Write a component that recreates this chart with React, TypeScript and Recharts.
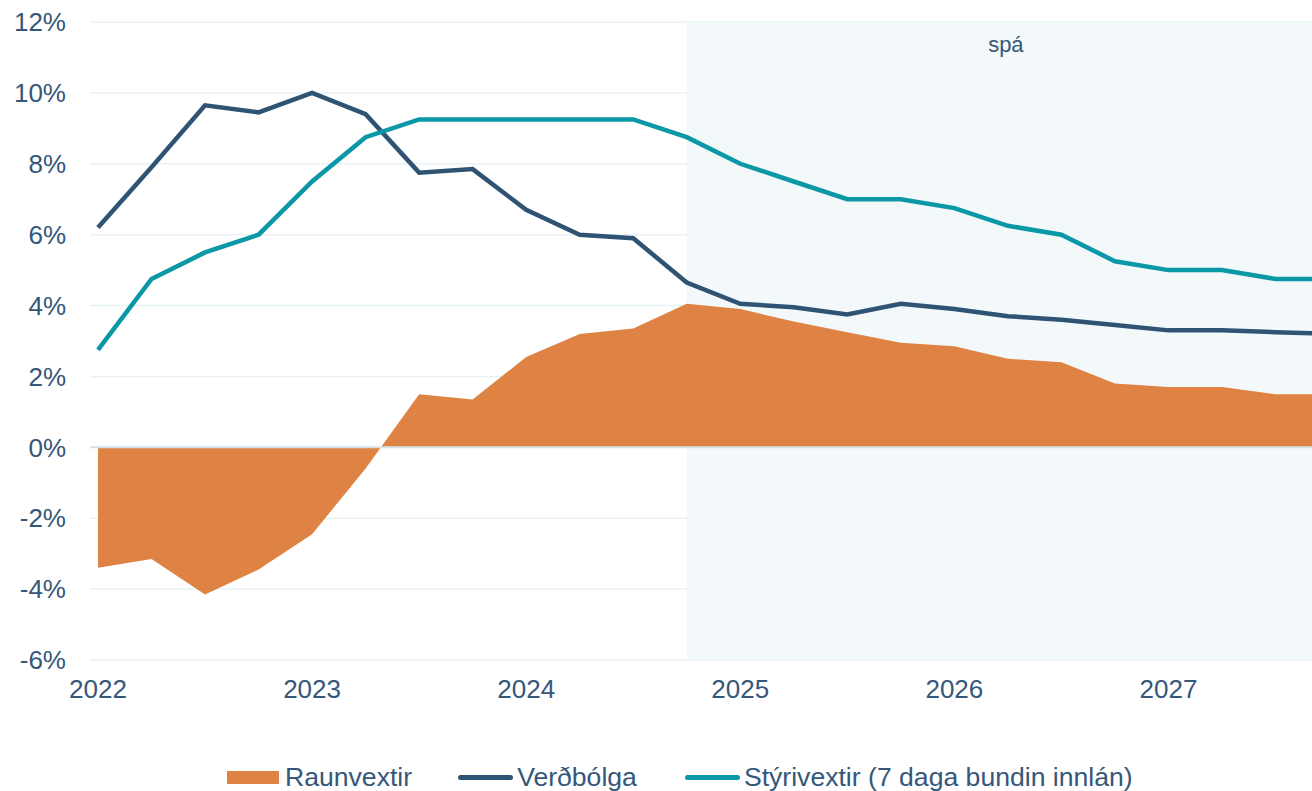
import {
  ComposedChart,
  Area,
  Line,
  XAxis,
  YAxis,
  CartesianGrid,
  ReferenceArea,
  ReferenceLine,
} from "recharts";

const quarters = [
  "2022K1", "2022K2", "2022K3", "2022K4",
  "2023K1", "2023K2", "2023K3", "2023K4",
  "2024K1", "2024K2", "2024K3", "2024K4",
  "2025K1", "2025K2", "2025K3", "2025K4",
  "2026K1", "2026K2", "2026K3", "2026K4",
  "2027K1", "2027K2", "2027K3", "2027K4",
];

const yearTicks = ["2022K1", "2023K1", "2024K1", "2025K1", "2026K1", "2027K1"];
const yTicks = [-6, -4, -2, 0, 2, 4, 6, 8, 10, 12];

const raunvextir = [
  -3.4, -3.15, -4.15, -3.45, -2.45, -0.6, 1.5, 1.35, 2.55, 3.2, 3.35, 4.05,
  3.9, 3.55, 3.25, 2.95, 2.85, 2.5, 2.4, 1.8, 1.7, 1.7, 1.5, 1.5,
];
const verdbolga = [
  6.2, 7.9, 9.65, 9.45, 10.0, 9.4, 7.75, 7.85, 6.7, 6.0, 5.9, 4.65,
  4.05, 3.95, 3.75, 4.05, 3.9, 3.7, 3.6, 3.45, 3.3, 3.3, 3.25, 3.2,
];
const styrivextir = [
  2.75, 4.75, 5.5, 6.0, 7.5, 8.75, 9.25, 9.25, 9.25, 9.25, 9.25, 8.75,
  8.0, 7.5, 7.0, 7.0, 6.75, 6.25, 6.0, 5.25, 5.0, 5.0, 4.75, 4.75,
];

const forecastStart = "2024K4";

const ORANGE = "#DE8343";
const NAVY = "#2F5373";
const TEAL = "#0A97A6";
const TEXT = "#35577A";
const FONT = "'Liberation Sans', Arial, sans-serif";

const data = quarters.map((q, i) => ({
  q,
  raunvextir: raunvextir[i],
  verdbolga: verdbolga[i],
  styrivextir: styrivextir[i],
}));

function LegendRow() {
  const item = { display: "flex", alignItems: "center" } as const;
  const line = (color: string) => (
    <span
      style={{
        width: 55,
        height: 5,
        borderRadius: 3,
        background: color,
        marginRight: 4,
        display: "inline-block",
      }}
    />
  );
  return (
    <div
      style={{
        position: "absolute",
        left: 227,
        top: 759,
        display: "flex",
        alignItems: "center",
        fontSize: 26.6,
        color: TEXT,
        fontFamily: FONT,
        lineHeight: "36px",
      }}
    >
      <div style={{ ...item, marginRight: 46 }}>
        <span
          style={{
            width: 52,
            height: 13,
            background: ORANGE,
            marginRight: 6,
            display: "inline-block",
          }}
        />
        Raunvextir
      </div>
      <div style={{ ...item, marginRight: 48 }}>
        {line(NAVY)}
        Verðbólga
      </div>
      <div style={item}>
        {line(TEAL)}
        Stýrivextir (7 daga bundin innlán)
      </div>
    </div>
  );
}

export default function App() {
  return (
    <div
      style={{
        position: "absolute",
        left: 0,
        top: 0,
        width: 1312,
        height: 791,
        overflow: "hidden",
        background: "#fff",
        fontFamily: FONT,
      }}
    >
      <ComposedChart
        width={1337}
        height={791}
        data={data}
        margin={{ top: 22, right: 0, bottom: 71, left: 0 }}
      >
        <ReferenceArea
          x1={forecastStart}
          x2={quarters[quarters.length - 1]}
          y1={-6}
          y2={12}
          fill="#F3F9FA"
          fillOpacity={1}
          stroke="none"
          label={{
            value: "spá",
            position: "insideTop",
            offset: 14,
            fill: TEXT,
            fontSize: 22,
            dx: -2,
          }}
        />
        <CartesianGrid vertical={false} stroke="#E8F2F5" strokeWidth={1.5} />
        <XAxis
          dataKey="q"
          ticks={yearTicks}
          tickFormatter={(v: string) => v.slice(0, 4)}
          interval={0}
          padding={{ left: 8, right: 8 }}
          axisLine={false}
          tickLine={false}
          tickSize={6}
          tickMargin={14}
          height={60}
          tick={{ fill: TEXT, fontSize: 26 }}
        />
        <YAxis
          domain={[-6, 12]}
          ticks={yTicks}
          tickFormatter={(v: number) => `${v}%`}
          axisLine={false}
          tickLine={false}
          tickSize={6}
          tickMargin={18}
          width={90}
          tick={{ fill: TEXT, fontSize: 26 }}
        />
        <ReferenceLine y={0} stroke="#D9E1E8" strokeWidth={2} />
        <Area
          type="linear"
          dataKey="raunvextir"
          baseValue={0}
          stroke="none"
          fill={ORANGE}
          fillOpacity={1}
          isAnimationActive={false}
        />
        <Line
          type="linear"
          dataKey="verdbolga"
          stroke={NAVY}
          strokeWidth={4.5}
          dot={false}
          isAnimationActive={false}
        />
        <Line
          type="linear"
          dataKey="styrivextir"
          stroke={TEAL}
          strokeWidth={4.5}
          dot={false}
          isAnimationActive={false}
        />
      </ComposedChart>
      <LegendRow />
    </div>
  );
}
